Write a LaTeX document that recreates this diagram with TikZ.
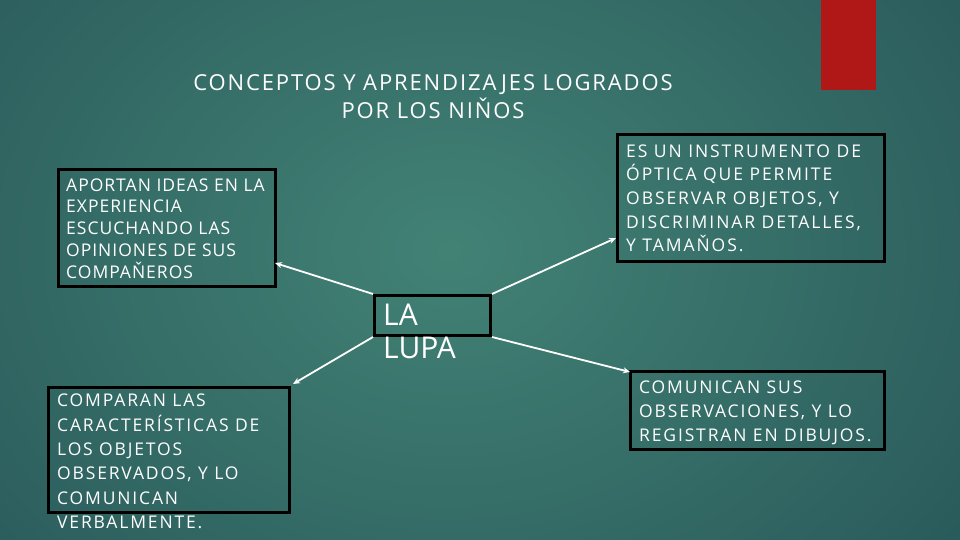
\documentclass[tikz,border=0pt]{standalone}
\usepackage{fontspec}
\setmainfont{Open Sans}
\usetikzlibrary{arrows.meta}
\definecolor{bgin}{RGB}{66,130,117}
\definecolor{bgout}{RGB}{22,58,70}
\definecolor{redbar}{RGB}{176,24,24}
\tikzset{
  box/.style={draw=black, line width=3pt, rectangle, inner sep=0pt},
  txt/.style={text=white, anchor=base west, align=left, inner sep=0pt},
  link/.style={draw=white, line width=1.8pt, -{Stealth[length=7pt,width=6pt]}},
}
\begin{document}
\begin{tikzpicture}[x=1pt,y=-1pt]
\useasboundingbox (0,0) rectangle (960,540);
\fill[bgout] (0,0) rectangle (960,540);
\begin{scope}
\clip (0,0) rectangle (960,540);
\shade[inner color=bgin, outer color=bgout] (450,250) ellipse [x radius=1150pt, y radius=900pt];
\end{scope}
\fill[redbar] (821,0) rectangle (876,90);

% title
\node[txt, anchor=base, align=center, font=\fontsize{22}{28.3}\selectfont\addfontfeature{LetterSpace=8.5}] (title) at (433,119)
  {CONCEPTOS Y APRENDIZAJES LOGRADOS\\POR LOS NIŇOS};

% boxes
\node[box, minimum width=217pt, minimum height=117pt] (a) at (167,228) {};
\node[box, minimum width=267pt, minimum height=127pt] (b) at (751,198) {};
\node[box, minimum width=116pt, minimum height=40pt] (lupa) at (432.5,315.5) {};
\node[box, minimum width=241pt, minimum height=125pt] (d) at (169,450) {};
\node[box, minimum width=254pt, minimum height=78pt] (e) at (757.5,410.5) {};

% texts (anchored at the baseline of the last line)
\node[txt, font=\fontsize{17.5}{21.75}\selectfont\addfontfeature{LetterSpace=5.7}] (ta) at (66,278)
  {APORTAN IDEAS EN LA\\EXPERIENCIA\\ESCUCHANDO LAS\\OPINIONES DE SUS\\COMPAŇEROS};
\node[txt, font=\fontsize{17.5}{23.6}\selectfont\addfontfeature{LetterSpace=11}] (tb) at (626,251.7)
  {ES UN INSTRUMENTO DE\\ÓPTICA QUE PERMITE\\OBSERVAR OBJETOS, Y\\DISCRIMINAR DETALLES,\\Y TAMAŇOS.};
\node[txt, font=\fontsize{30}{33}\selectfont] (tl) at (383,358)
  {LA\\LUPA};
\node[txt, font=\fontsize{17.5}{24.3}\selectfont\addfontfeature{LetterSpace=10.5}] (td) at (57,528.3)
  {COMPARAN LAS\\CARACTERÍSTICAS DE\\LOS OBJETOS\\OBSERVADOS, Y LO\\COMUNICAN\\VERBALMENTE.};
\node[txt, font=\fontsize{17.5}{24.2}\selectfont\addfontfeature{LetterSpace=10.6}] (te) at (639,441.7)
  {COMUNICAN SUS\\OBSERVACIONES, Y LO\\REGISTRAN EN DIBUJOS.};

% arrow end points
\coordinate (pa) at (275,263);
\coordinate (pb) at (616,238);
\coordinate (pd) at (293,384);
\coordinate (pe) at (630,372);

\draw[link] (lupa.north west) -- (pa);
\draw[link] (lupa.north east) -- (pb);
\draw[link] (lupa.south west) -- (pd);
\draw[link] (lupa.south east) -- (pe);
\end{tikzpicture}
\end{document}
